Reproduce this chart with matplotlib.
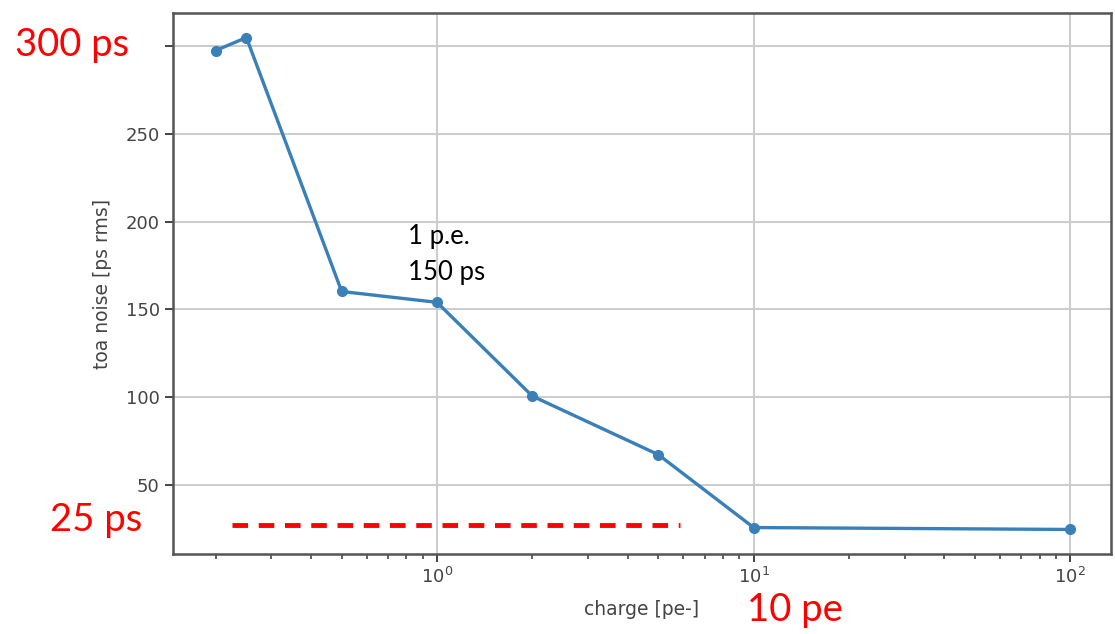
import matplotlib
matplotlib.use("Agg")
import matplotlib.pyplot as plt

# measured toa noise vs injected charge
charge = [0.2, 0.25, 0.5, 1, 2, 5, 10, 100]
toa_noise = [297.7, 305.1, 160.2, 154.0, 100.5, 67.1, 25.5, 24.4]

# red dashed 25 ps reference
ref_x = [0.225, 5.86]
ref_y = [27.2, 27.2]

W, H = 1115, 634
fig = plt.figure(figsize=(W / 100, H / 100), dpi=100)
ax = fig.add_axes([173 / W, 1 - 554 / H, (1111 - 173) / W, (554 - 13) / H])

ax.plot(charge, toa_noise, color='#3a80b8', lw=2.4, marker='o', ms=7)
ax.plot(ref_x, ref_y, color='#ff0000', lw=3.5, ls=(0, (3.2, 2.2)))

ax.set_xscale('log')
ax.set_xlim(0.1466, 134.5)
ax.set_ylim(10.4, 319.1)
ax.set_yticks([50, 100, 150, 200, 250, 300])
ax.set_yticklabels(['50', '100', '150', '200', '250', ''])

ax.grid(True, which='major', color='#cccccc', lw=1.4)
ax.tick_params(which='major', labelsize=13, labelcolor='#444444', color='#444444', length=6, width=1.4)
ax.tick_params(which='minor', color='#444444', length=3.5, width=1.2)
for s in ax.spines.values():
    s.set_color('#555555')
    s.set_linewidth(1.8)

ax.set_xlabel('charge [pe-]', fontsize=13.5, color='#444444', labelpad=9)
ax.set_ylabel('toa noise [ps rms]', fontsize=13.5, color='#444444', labelpad=10)

red_font = ['Lato', 'DejaVu Sans']
fig.text(15 / W, 1 - 45 / H, '300 ps', color='#ff0000', fontsize=27.5, family=red_font, va='center')
fig.text(50 / W, 1 - 520 / H, '25 ps', color='#ff0000', fontsize=27.5, family=red_font, va='center')
fig.text(747 / W, 1 - 610 / H, '10 pe', color='#ff0000', fontsize=27.5, family=red_font, va='center')
fig.text(408 / W, 1 - 255 / H, '1 p.e.\n150 ps', color='black', fontsize=18.5, family=red_font,
         va='center', linespacing=1.55)

fig.savefig('out.png', dpi=100)
